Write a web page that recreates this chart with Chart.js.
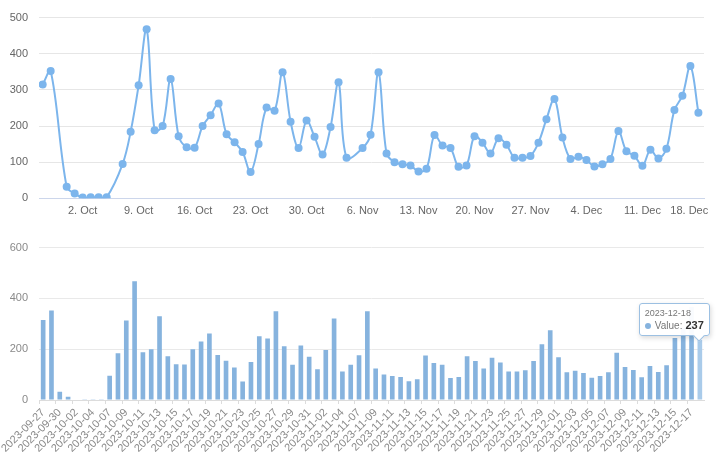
<!DOCTYPE html>
<html>
<head>
<meta charset="utf-8">
<script src="https://cdn.jsdelivr.net/npm/chart.js@4.4.1/dist/chart.umd.min.js"></script>
<style>
    html, body { margin: 0; padding: 0; background: #fff; overflow: hidden; }
    body { width: 716px; height: 452px; position: relative; font-family: "Liberation Sans", Arial, sans-serif; }
    #topBox { position: absolute; left: 0; top: 0; width: 716px; height: 228px; }
    #bottomBox { position: absolute; left: 0; top: 230px; width: 716px; height: 222px; }
    #tip {
        position: absolute; display: none; box-sizing: border-box;
        background: rgba(255, 255, 255, 0.95); border: 1px solid #9cc0e2; border-radius: 3px;
        box-shadow: 1px 2px 5px rgba(0, 0, 0, 0.15);
        padding: 3px 5px 3px 5px; font-size: 9px; line-height: 12px; color: #777; white-space: nowrap;
    }
    #tip .dot { display: inline-block; width: 6px; height: 6px; border-radius: 50%; background: #86b3de; margin-right: 4px; }
    #tip .lbl { font-size: 10px; }
    #tip b { color: #333; font-size: 11px; margin-left: 3px; }
    #tip::after {
        content: ''; position: absolute; right: 6px; bottom: -5px; width: 7px; height: 7px;
        background: #fff; border-right: 1px solid #9cc0e2; border-bottom: 1px solid #9cc0e2;
        transform: rotate(45deg);
    }
</style>
</head>
<body>
<div id="topBox"><canvas id="lineChart"></canvas></div>
<div id="bottomBox"><canvas id="barChart"></canvas></div>
<div id="tip"><div class="tt"></div><div><span class="dot"></span><span class="lbl">Value:</span><b class="tv"></b></div></div>

<script>
// #region data
const dates = [
    '2023-09-27', '2023-09-28', '2023-09-30',
    '2023-10-01', '2023-10-02', '2023-10-03', '2023-10-04', '2023-10-05',
    '2023-10-07', '2023-10-08', '2023-10-09', '2023-10-10', '2023-10-11', '2023-10-12', '2023-10-13',
    '2023-10-14', '2023-10-15', '2023-10-16', '2023-10-17', '2023-10-18', '2023-10-19', '2023-10-20',
    '2023-10-21', '2023-10-22', '2023-10-23', '2023-10-24', '2023-10-25', '2023-10-26', '2023-10-27',
    '2023-10-28', '2023-10-29', '2023-10-30', '2023-10-31',
    '2023-11-01', '2023-11-02', '2023-11-03', '2023-11-04',
    '2023-11-06', '2023-11-07', '2023-11-08', '2023-11-09', '2023-11-10', '2023-11-11', '2023-11-12',
    '2023-11-13', '2023-11-14', '2023-11-15', '2023-11-16', '2023-11-17', '2023-11-18', '2023-11-19',
    '2023-11-20', '2023-11-21', '2023-11-22', '2023-11-23', '2023-11-24', '2023-11-25', '2023-11-26',
    '2023-11-27', '2023-11-28', '2023-11-29', '2023-11-30',
    '2023-12-01', '2023-12-02', '2023-12-03', '2023-12-04', '2023-12-05', '2023-12-06', '2023-12-07',
    '2023-12-08', '2023-12-09', '2023-12-10', '2023-12-11', '2023-12-12', '2023-12-13', '2023-12-14',
    '2023-12-15', '2023-12-16', '2023-12-17', '2023-12-18'
];
const values = [
    315, 352, 32,
    13, 2, 3, 3, 3,
    95, 184, 313, 468, 188, 200, 330,
    172, 141, 140, 200, 230, 262, 177,
    155, 128, 73, 150, 251, 242, 349,
    212, 139, 215, 170,
    121, 197, 321, 112,
    139, 176, 349, 124, 100, 94, 91,
    74, 82, 175, 146, 139, 87, 91,
    172, 154, 124, 166, 148, 112, 112,
    117, 154, 219, 275,
    168, 109, 115, 106, 88, 94, 109,
    186, 130, 118, 90, 134, 110, 137,
    244, 284, 366, 237
];
const weekTickDates = [
    '2023-10-02', '2023-10-09', '2023-10-16', '2023-10-23', '2023-10-30', '2023-11-06',
    '2023-11-13', '2023-11-20', '2023-11-27', '2023-12-04', '2023-12-11', '2023-12-18'
];
const weekTickLabels = [
    '2. Oct', '9. Oct', '16. Oct', '23. Oct', '30. Oct', '6. Nov',
    '13. Nov', '20. Nov', '27. Nov', '4. Dec', '11. Dec', '18. Dec'
];
const tooltipIndex = dates.length - 1;
// #endregion data

const
    lineColor = '#7cb5ec',
    barColor = '#86b3de',
    dayMs = 86400000;

function dayIndex(d) {
    return (Date.parse(d) - Date.parse(dates[0])) / dayMs;
}

Chart.defaults.font.family = '"Liberation Sans", Arial, sans-serif';
Chart.defaults.animation = false;

// top: spline with markers on a day axis
new Chart(document.getElementById('lineChart'), {
    type: 'line',
    data: {
        datasets: [{
            data: dates.map((d, i) => ({ x: dayIndex(d), y: values[i] })),
            borderColor: lineColor,
            backgroundColor: lineColor,
            borderWidth: 2,
            pointRadius: 4,
            pointBorderWidth: 0,
            pointBackgroundColor: lineColor,
            tension: 0.35,
            fill: false
        }]
    },
    options: {
        responsive: true,
        maintainAspectRatio: false,
        layout: { padding: { top: 12, right: 12, left: 0, bottom: 0 } },
        plugins: { legend: { display: false }, tooltip: { enabled: false } },
        scales: {
            x: {
                type: 'linear',
                min: -0.46,
                max: 82.7,
                afterBuildTicks: s => { s.ticks = weekTickDates.map(d => ({ value: dayIndex(d) })); },
                afterFit: s => { s.paddingLeft = 0; s.paddingRight = 0; s.height = 29.7; },
                grid: { display: false, drawTicks: false },
                border: { display: true, color: '#ccd6eb' },
                ticks: {
                    autoSkip: false, maxRotation: 0, padding: 6,
                    color: '#666', font: { size: 11 },
                    // trailing spaces nudge the last label back inside the canvas
                    callback: (v, i) => (i === weekTickLabels.length - 1 ? weekTickLabels[i] + '      ' : weekTickLabels[i])
                }
            },
            y: {
                min: 0,
                max: 500,
                afterFit: s => { s.width = 39; },
                grid: { color: '#e6e6e6', drawTicks: false },
                border: { display: false },
                ticks: { stepSize: 100, padding: 11, color: '#666', font: { size: 11 } }
            }
        }
    }
});

// bottom: one bar per date
const tip = document.getElementById('tip');
function drawTip(context) {
    const { chart, tooltip } = context;
    if (tooltip.opacity === 0) { tip.style.display = 'none'; return; }
    const pt = tooltip.dataPoints[0];
    tip.querySelector('.tt').textContent = pt.label;
    tip.querySelector('.tv').textContent = pt.formattedValue;
    tip.style.display = 'block';
    const box = chart.canvas.parentNode;
    tip.style.left = (box.offsetLeft + tooltip.caretX - tip.offsetWidth + 10) + 'px';
    tip.style.top = (box.offsetTop + tooltip.caretY - tip.offsetHeight - 4) + 'px';
}

const bar = new Chart(document.getElementById('barChart'), {
    type: 'bar',
    data: {
        labels: dates,
        datasets: [{
            label: 'Value',
            data: values,
            backgroundColor: barColor,
            hoverBackgroundColor: '#a9cbea',
            categoryPercentage: 1,
            barPercentage: 0.56
        }]
    },
    options: {
        responsive: true,
        maintainAspectRatio: false,
        layout: { padding: { top: 16, right: 12, left: 0, bottom: 0 } },
        plugins: {
            legend: { display: false },
            tooltip: { enabled: false, external: drawTip, mode: 'index', intersect: false }
        },
        scales: {
            x: {
                afterFit: s => { s.paddingLeft = 0; s.paddingRight = 0; s.height = 52; },
                grid: {
                    offset: true, drawOnChartArea: false, drawTicks: true, tickLength: 4,
                    color: c => (c.index % 2 === 0 ? '#dcdcdc' : 'rgba(0,0,0,0)')
                },
                border: { display: true, color: '#dcdcdc' },
                ticks: {
                    autoSkip: false, maxRotation: 45, minRotation: 45, padding: 2,
                    color: '#8a8a8a', font: { size: 11 },
                    callback: (v, i) => (i % 2 === 0 ? dates[i] : '')
                }
            },
            y: {
                min: 0,
                max: 600,
                afterFit: s => { s.width = 39; },
                grid: { color: '#e9e9e9', drawTicks: false },
                border: { display: false },
                ticks: { stepSize: 200, padding: 11, color: '#8a8a8a', font: { size: 11 } }
            }
        }
    }
});

// show the tooltip for the last day, as in the picture
const lastBar = bar.getDatasetMeta(0).data[tooltipIndex];
bar.tooltip.setActiveElements([{ datasetIndex: 0, index: tooltipIndex }], { x: lastBar.x, y: lastBar.y });
bar.setActiveElements([{ datasetIndex: 0, index: tooltipIndex }]);
bar.update();
</script>
</body>
</html>
